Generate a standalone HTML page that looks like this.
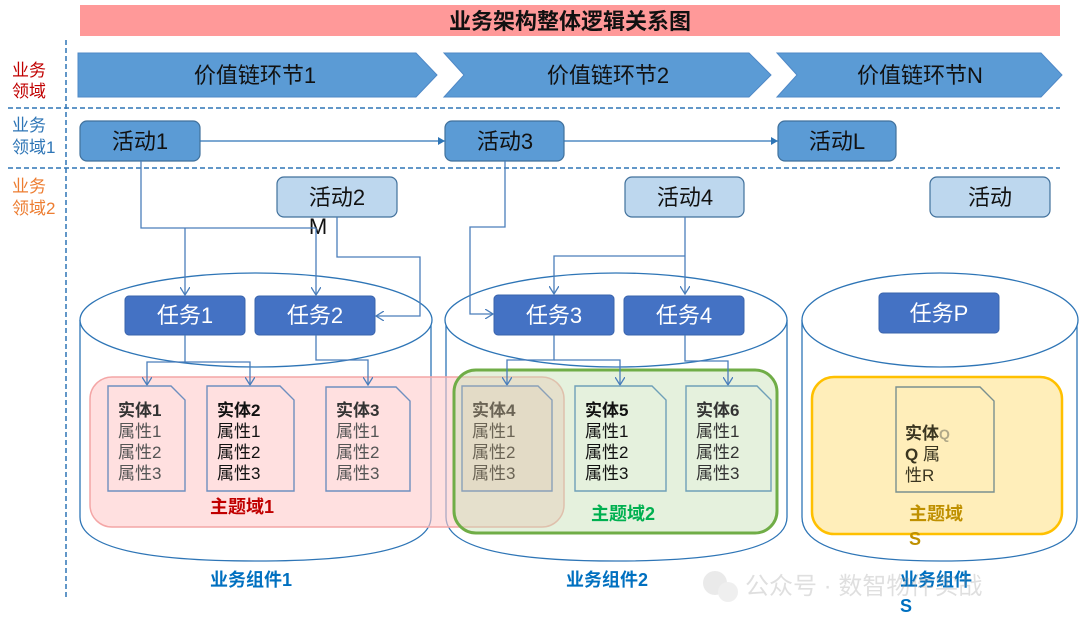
<!DOCTYPE html>
<html><head><meta charset="utf-8"><style>
html,body{margin:0;padding:0;background:#fff;}
svg{display:block;}
text{font-family:"Liberation Sans","Noto Sans CJK SC",sans-serif;}
</style></head><body>
<svg width="1080" height="631" viewBox="0 0 1080 631" xmlns="http://www.w3.org/2000/svg">
<defs>
<marker id="a" markerWidth="10" markerHeight="10" refX="8" refY="5" orient="auto" markerUnits="userSpaceOnUse">
<path d="M0,0 L8,5 L0,10" fill="none" stroke="#4a7ebb" stroke-width="1.3"/></marker>
<marker id="af" markerWidth="8" markerHeight="8" refX="7" refY="4" orient="auto" markerUnits="userSpaceOnUse">
<path d="M0,0 L7,4 L0,8 Z" fill="#2e75b6"/></marker>
</defs>
<rect x="80" y="5" width="980" height="31" fill="#ff9999"/>
<text x="570" y="29" font-size="22" font-weight="bold" text-anchor="middle" fill="#111">业务架构整体逻辑关系图</text>
<line x1="66" y1="40" x2="66" y2="600" stroke="#2e75b6" stroke-width="1.5" stroke-dasharray="5,3"/>
<line x1="8" y1="108" x2="1060" y2="108" stroke="#2e75b6" stroke-width="1.5" stroke-dasharray="5,3"/>
<line x1="8" y1="168" x2="1060" y2="168" stroke="#2e75b6" stroke-width="1.5" stroke-dasharray="5,3"/>
<g font-size="17">
<text x="12" y="76" fill="#c00000">业务</text><text x="12" y="97" fill="#c00000">领域</text>
<text x="12" y="131" fill="#2e75b6">业务</text><text x="12" y="153" fill="#2e75b6">领域1</text>
<text x="12" y="192" fill="#ed7d31">业务</text><text x="12" y="214" fill="#ed7d31">领域2</text>
</g>
<g fill="#5b9bd5" stroke="#4f88c6" stroke-width="1">
<path d="M78,53 L416,53 L437,75 L416,97 L78,97 Z"/>
<path d="M444,53 L749,53 L771,75 L749,97 L444,97 L464,75 Z"/>
<path d="M777,53 L1041,53 L1062,75 L1041,97 L777,97 L797,75 Z"/>
</g>
<g font-size="22" fill="#111" text-anchor="middle">
<text x="255" y="83">价值链环节1</text>
<text x="608" y="83">价值链环节2</text>
<text x="920" y="83">价值链环节N</text>
</g>
<g fill="none" stroke="#2e75b6" stroke-width="1.3">
<path d="M80,320 L80,517 Q80,561 256,561 Q431,561 431,517 L431,320"/>
<ellipse cx="256" cy="320" rx="176" ry="47" fill="#fff"/>
<path d="M446,320 L446,517 Q446,561 616,561 Q787,561 787,517 L787,320"/>
<ellipse cx="616" cy="320" rx="171" ry="47" fill="#fff"/>
<path d="M802,320 L802,517 Q802,561 940,561 Q1077,561 1077,517 L1077,320"/>
<ellipse cx="940" cy="320" rx="138" ry="47" fill="#fff"/>
</g>
<rect x="90" y="377" width="474" height="150" rx="22" fill="#ffcccc" fill-opacity="0.6" stroke="#f4a6a6" stroke-width="1.5"/>
<rect x="454" y="370" width="323" height="163" rx="22" fill="#c5e0b4" fill-opacity="0.45" stroke="#70ad47" stroke-width="3"/>
<rect x="812" y="377" width="250" height="157" rx="22" fill="#ffeeba" stroke="#ffc000" stroke-width="2.5"/>
<g stroke="#41719c" stroke-width="1.2">
<rect x="80" y="121" width="120" height="40" rx="7" fill="#5b9bd5"/>
<rect x="445" y="121" width="119" height="40" rx="7" fill="#5b9bd5"/>
<rect x="778" y="121" width="118" height="40" rx="7" fill="#5b9bd5"/>
<rect x="277" y="177" width="120" height="40" rx="7" fill="#bdd7ee"/>
<rect x="625" y="177" width="119" height="40" rx="7" fill="#bdd7ee"/>
<rect x="930" y="177" width="120" height="40" rx="7" fill="#bdd7ee"/>
</g>
<g font-size="22" fill="#111" text-anchor="middle">
<text x="140" y="149">活动1</text>
<text x="505" y="149">活动3</text>
<text x="837" y="149">活动L</text>
<text x="337" y="205">活动2</text>
<text x="685" y="205">活动4</text>
<text x="990" y="205">活动</text>
<text x="318" y="234">M</text>
</g>
<line x1="200" y1="141" x2="445" y2="141" stroke="#2e75b6" stroke-width="1.3" marker-end="url(#af)"/>
<line x1="564" y1="141" x2="778" y2="141" stroke="#2e75b6" stroke-width="1.3" marker-end="url(#af)"/>
<g fill="#4472c4" stroke="#3a64ad">
<rect x="125" y="296" width="120" height="39" rx="4"/>
<rect x="255" y="296" width="120" height="39" rx="4"/>
<rect x="494" y="295" width="120" height="40" rx="4"/>
<rect x="624" y="296" width="120" height="39" rx="4"/>
<rect x="879" y="293" width="120" height="40" rx="4"/>
</g>
<g font-size="22" fill="#fff" text-anchor="middle">
<text x="185" y="323">任务1</text><text x="315" y="323">任务2</text>
<text x="554" y="323">任务3</text><text x="684" y="323">任务4</text>
<text x="939" y="321">任务P</text>
</g>
<g fill="none" stroke="#4a7ebb" stroke-width="1.3">
<path d="M141,161 L141,228 L316,228"/>
<path d="M185,228 L185,295" marker-end="url(#a)"/>
<path d="M316,228 L316,295" marker-end="url(#a)"/>
<path d="M337,217 L337,257 L420,257 L420,316 L376,316" marker-end="url(#a)"/>
<path d="M505,161 L505,227 L470,227 L470,314 L493,314" marker-end="url(#a)"/>
<path d="M685,217 L685,294" marker-end="url(#a)"/>
<path d="M685,256 L554,256 L554,294" marker-end="url(#a)"/>
<path d="M185,335 L185,362 L147,362 L147,385" marker-end="url(#a)"/>
<path d="M185,362 L250,362 L250,385" marker-end="url(#a)"/>
<path d="M316,335 L316,360 L368,360 L368,385" marker-end="url(#a)"/>
<path d="M554,335 L554,360 L507,360 L507,385" marker-end="url(#a)"/>
<path d="M554,360 L620,360 L620,385" marker-end="url(#a)"/>
<path d="M685,335 L685,361 L728,361 L728,385" marker-end="url(#a)"/>
</g>
<g fill="none" stroke="#6f8fbf" stroke-width="1.4">
<path d="M108,386 L171,386 L185,400 L185,491 L108,491 Z"/>
<path d="M207,386 L280,386 L294,400 L294,491 L207,491 Z"/>
<path d="M326,387 L396,387 L410,401 L410,491 L326,491 Z"/>
<path d="M462,386 L538,386 L552,400 L552,491 L462,491 Z" fill="#e2d9c4" fill-opacity="0.8" stroke="#8aa0b8"/>
<path d="M575,386 L652,386 L666,400 L666,491 L575,491 Z" stroke="#6fa0b8"/>
<path d="M686,386 L757,386 L771,400 L771,491 L686,491 Z" stroke="#6fa0b8"/>
<path d="M896,387 L980,387 L994,401 L994,492 L896,492 Z" stroke="#7a8f8f"/>
</g>
<g font-size="17">
<g fill="#333"><text x="118" y="416" font-weight="bold">实体1</text><text x="118" y="437" fill="#555">属性1</text><text x="118" y="458" fill="#555">属性2</text><text x="118" y="479" fill="#555">属性3</text></g>
<g fill="#111"><text x="217" y="416" font-weight="bold">实体2</text><text x="217" y="437">属性1</text><text x="217" y="458">属性2</text><text x="217" y="479">属性3</text></g>
<g fill="#333"><text x="336" y="416" font-weight="bold">实体3</text><text x="336" y="437" fill="#555">属性1</text><text x="336" y="458" fill="#555">属性2</text><text x="336" y="479" fill="#555">属性3</text></g>
<g fill="#6b6455"><text x="472" y="416" font-weight="bold">实体4</text><text x="472" y="437">属性1</text><text x="472" y="458">属性2</text><text x="472" y="479">属性3</text></g>
<g fill="#111"><text x="585" y="416" font-weight="bold">实体5</text><text x="585" y="437">属性1</text><text x="585" y="458">属性2</text><text x="585" y="479">属性3</text></g>
<g fill="#333"><text x="696" y="416" font-weight="bold">实体6</text><text x="696" y="437">属性1</text><text x="696" y="458">属性2</text><text x="696" y="479">属性3</text></g>
<g fill="#3a3520"><text x="905" y="439" font-weight="bold">实体<tspan font-size="14" fill="#b0a888">Q</tspan></text><text x="905" y="460"><tspan font-weight="bold">Q</tspan> 属</text><text x="905" y="481">性R</text></g>
</g>
<g font-size="18" font-weight="bold">
<text x="210" y="513" fill="#c00000">主题域1</text>
<text x="591" y="520" fill="#00b050">主题域2</text>
<text x="909" y="520" fill="#bf9000">主题域</text>
<text x="909" y="545" fill="#bf9000">S</text>
<text x="210" y="586" fill="#0070c0">业务组件1</text>
<text x="566" y="586" fill="#0070c0">业务组件2</text>
<text x="900" y="586" fill="#0070c0">业务组件</text>
<text x="900" y="612" fill="#0070c0">S</text>
</g>
<g opacity="0.3" font-size="24" fill="#999">
<circle cx="715" cy="583" r="12" fill="#bbb"/><circle cx="728" cy="592" r="10" fill="#ccc"/>
<text x="745" y="594">公众号 · 数智物件实战</text>
</g>
</svg>
</body></html>
